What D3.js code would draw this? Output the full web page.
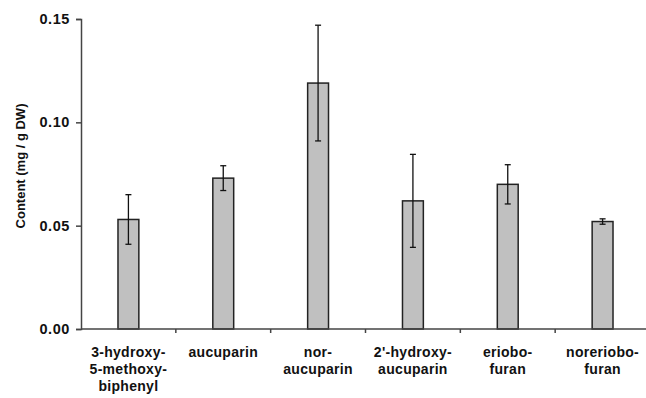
<!DOCTYPE html>
<html>
<head>
<meta charset="utf-8">
<script src="https://cdn.jsdelivr.net/npm/d3@7"></script>
<style>
  body { margin: 0; background: #fff; }
  text { font-family: "Liberation Sans", Arial, sans-serif; font-weight: bold; fill: #111; }
</style>
</head>
<body>
<svg id="chart" width="646" height="398"></svg>
<script>
// data
const compounds = [
  ['3-hydroxy-', '5-methoxy-', 'biphenyl'],
  ['aucuparin'],
  ['nor-', 'aucuparin'],
  ["2'-hydroxy-", 'aucuparin'],
  ['eriobo-', 'furan'],
  ['noreriobo-', 'furan']
];
const contents = [0.053, 0.073, 0.119, 0.062, 0.070, 0.052];
const errors = [0.012, 0.006, 0.028, 0.0225, 0.0095, 0.0013];
const yTicks = [0, 0.05, 0.10, 0.15];

const width = 646, height = 398;
const margin = { top: 19, right: -4, bottom: 69, left: 81 };

const svg = d3.select('#chart');

const keys = compounds.map((_, i) => i);

const x = d3.scaleBand()
  .domain(keys)
  .range([margin.left, width - margin.right]);

const y = d3.scaleLinear()
  .domain([0, 0.15])
  .range([height - margin.bottom, margin.top]);

const barW = x.step() * 0.22;

// y axis
const yAxisG = svg.append('g')
  .attr('transform', `translate(${margin.left},0)`)
  .call(d3.axisLeft(y).tickValues(yTicks).tickFormat(d3.format('.2f')).tickSize(5).tickPadding(6));
yAxisG.select('.domain').attr('stroke', '#444').attr('stroke-width', 1.5);
yAxisG.selectAll('.tick line').attr('stroke', '#444').attr('stroke-width', 1.5);
yAxisG.selectAll('.tick text').style('font-size', '14.5px').style('letter-spacing', '0.6px').attr('fill', '#111');

// bars
svg.append('g')
  .selectAll('rect')
  .data(contents)
  .join('rect')
  .attr('x', (d, i) => x(i) + x.bandwidth() / 2 - barW / 2)
  .attr('y', d => y(d))
  .attr('width', barW)
  .attr('height', d => y(0) - y(d))
  .attr('fill', '#c0c0c0')
  .attr('stroke', '#222')
  .attr('stroke-width', 1.5);

// error bars
const eb = svg.append('g').attr('stroke', '#111').attr('stroke-width', 1.3);
contents.forEach((d, i) => {
  const cx = x(i) + x.bandwidth() / 2;
  const lo = y(d - errors[i]), hi = y(d + errors[i]);
  eb.append('line').attr('x1', cx).attr('x2', cx).attr('y1', lo).attr('y2', hi);
  eb.append('line').attr('x1', cx - 3).attr('x2', cx + 3).attr('y1', lo).attr('y2', lo);
  eb.append('line').attr('x1', cx - 3).attr('x2', cx + 3).attr('y1', hi).attr('y2', hi);
});

// x axis with ticks at category boundaries
const xAxisG = svg.append('g')
  .attr('transform', `translate(0,${y(0)})`);
xAxisG.append('line')
  .attr('x1', margin.left).attr('x2', width)
  .attr('stroke', '#444').attr('stroke-width', 1.5);
xAxisG.selectAll('line.tick')
  .data(keys.slice(1))
  .join('line')
  .attr('class', 'tick')
  .attr('x1', d => x(d)).attr('x2', d => x(d))
  .attr('y1', 0).attr('y2', 4)
  .attr('stroke', '#444').attr('stroke-width', 1.5);

const labels = svg.append('g')
  .selectAll('text')
  .data(compounds)
  .join('text')
  .attr('text-anchor', 'middle')
  .attr('x', (d, i) => x(i) + x.bandwidth() / 2)
  .attr('y', y(0) + 28)
  .style('font-size', '14px')
  .style('letter-spacing', '0.3px');
labels.selectAll('tspan')
  .data(d => d)
  .join('tspan')
  .attr('x', function () { return d3.select(this.parentNode).attr('x'); })
  .attr('dy', (d, j) => j === 0 ? 0 : 17)
  .text(d => d);

// y axis title
svg.append('text')
  .attr('transform', `translate(25,${(y(0) + y(0.15)) / 2 - 8}) rotate(-90)`)
  .attr('text-anchor', 'middle')
  .style('font-size', '13px')
  .text('Content (mg / g DW)');
</script>
</body>
</html>
